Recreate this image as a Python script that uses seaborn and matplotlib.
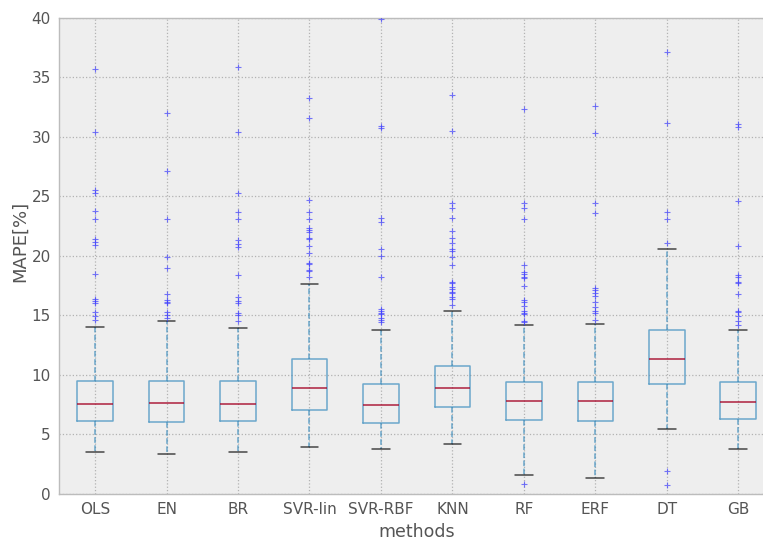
import numpy as np
import pandas as pd
import matplotlib
matplotlib.use("Agg")
import matplotlib.pyplot as plt
import seaborn as sns

methods = ["OLS", "EN", "BR", "SVR-lin", "SVR-RBF", "KNN", "RF", "ERF", "DT", "GB"]

whisker_low = [3.49, 3.34, 3.49, 3.96, 3.79, 4.18, 1.55, 1.33, 5.42, 3.74]
q1 = [6.14, 6.06, 6.14, 7.02, 5.92, 7.32, 6.17, 6.09, 9.23, 6.26]
median = [7.57, 7.66, 7.52, 8.87, 7.43, 8.87, 7.83, 7.77, 11.3, 7.69]
q3 = [9.45, 9.50, 9.45, 11.35, 9.20, 10.74, 9.40, 9.40, 13.8, 9.37]
whisker_high = [14.0, 14.5, 13.9, 17.66, 13.8, 15.36, 14.16, 14.27, 20.6, 13.74]

fliers_OLS = [35.7, 30.4, 25.5, 25.3, 23.8, 23.1, 21.4, 21.2, 20.9, 18.5, 16.4, 16.2, 16.0, 15.3, 14.9, 14.6]
fliers_EN = [32.0, 27.1, 23.1, 19.9, 19.0, 16.8, 16.3, 16.1, 16.0, 15.3, 15.0, 14.8]
fliers_BR = [35.9, 30.4, 25.3, 23.7, 23.1, 21.3, 21.0, 20.7, 18.4, 16.5, 16.2, 16.0, 15.2, 15.0, 14.5]
fliers_SVR_lin = [33.3, 31.6, 24.7, 23.7, 23.1, 22.3, 22.2, 22.0, 21.5, 21.4, 20.8, 20.2, 19.4, 19.3, 18.8, 18.7, 18.2]
fliers_SVR_RBF = [39.9, 30.9, 30.7, 23.2, 22.8, 20.6, 20.0, 18.2, 15.5, 15.4, 15.2, 15.1, 14.8, 14.6, 14.4]
fliers_KNN = [33.5, 30.5, 24.4, 24.0, 23.2, 22.1, 21.5, 21.05, 20.6, 20.4, 19.9, 19.2, 17.8, 17.7, 17.35, 17.2, 17.0, 16.9, 16.5, 16.4, 15.9]
fliers_RF = [32.3, 24.4, 24.05, 23.1, 19.2, 18.6, 18.5, 18.2, 18.1, 17.5, 16.3, 16.1, 15.8, 15.4, 15.2, 15.1, 14.5, 14.4, 0.8]
fliers_ERF = [32.6, 30.3, 24.4, 23.6, 17.3, 17.1, 16.9, 16.6, 16.1, 15.7, 15.4, 15.2, 14.6]
fliers_DT = [37.1, 31.2, 23.7, 23.1, 21.1, 1.9, 0.7]
fliers_GB = [31.1, 30.8, 24.6, 20.8, 18.4, 18.25, 17.8, 17.7, 16.8, 15.4, 15.25, 14.9, 14.55, 14.16]

fliers = [fliers_OLS, fliers_EN, fliers_BR, fliers_SVR_lin, fliers_SVR_RBF,
          fliers_KNN, fliers_RF, fliers_ERF, fliers_DT, fliers_GB]

yticks = [0, 5, 10, 15, 20, 25, 30, 35, 40]

# summary table: five key values per method (low whisker, q1, median, q3, high whisker)
rows = []
for i, m in enumerate(methods):
    for v in (whisker_low[i], q1[i], median[i], q3[i], whisker_high[i]):
        rows.append({"methods": m, "value": v})
box_df = pd.DataFrame(rows)
fl_rows = [{"methods": m, "value": v} for m, fl in zip(methods, fliers) for v in fl]
fl_df = pd.DataFrame(fl_rows)

sns.set_theme(style="whitegrid", rc={
    "axes.facecolor": "#eeeeee",
    "axes.edgecolor": "#bcbcbc",
    "axes.linewidth": 1.0,
    "grid.color": "#b2b2b2",
    "grid.linestyle": ":",
    "grid.linewidth": 0.9,
    "xtick.color": "#555555",
    "ytick.color": "#555555",
    "axes.labelcolor": "#555555",
})
plt.rcParams["font.family"] = ["DejaVu Sans"]

fig = plt.figure(figsize=(7.63, 5.42), dpi=100)
ax = fig.add_axes([59.3 / 763, (542 - 493.8) / 542, 714.8 / 763, 476.0 / 542])

box_c = (0.204, 0.541, 0.741, 0.7)
med_c = (0.651, 0.024, 0.157, 0.7)
sns.boxplot(data=box_df, x="methods", y="value", order=methods, ax=ax,
            fill=False, width=0.5, whis=(0, 100), showfliers=False,
            boxprops=dict(color=box_c, linewidth=1.1),
            whiskerprops=dict(color=box_c, linestyle="--", linewidth=1.1),
            capprops=dict(color=(0, 0, 0, 0.7), linewidth=1.1),
            medianprops=dict(color=med_c, linewidth=1.4))

flier_c = (0.25, 0.25, 1.0, 0.7)
sns.stripplot(data=fl_df, x="methods", y="value", order=methods, ax=ax,
              jitter=False, marker="+", color=flier_c, edgecolor=flier_c,
              size=5, linewidth=0.8)

ax.set_ylim(0, 40)
ax.set_yticks(yticks)
ax.set_xlim(-0.5, len(methods) - 0.5)
ax.grid(True, axis="both")
ax.set_axisbelow(True)
ax.tick_params(axis="both", length=0, labelsize=11, pad=6)
ax.set_xlabel("methods", fontsize=12.5, color="#555555")
ax.set_ylabel("MAPE[%]", fontsize=13, color="#555555")
ax.yaxis.set_label_coords(-0.042, 0.53)
for s in ax.spines.values():
    s.set_visible(True)
    s.set_color("#bcbcbc")

fig.savefig("out.png", dpi=100)
